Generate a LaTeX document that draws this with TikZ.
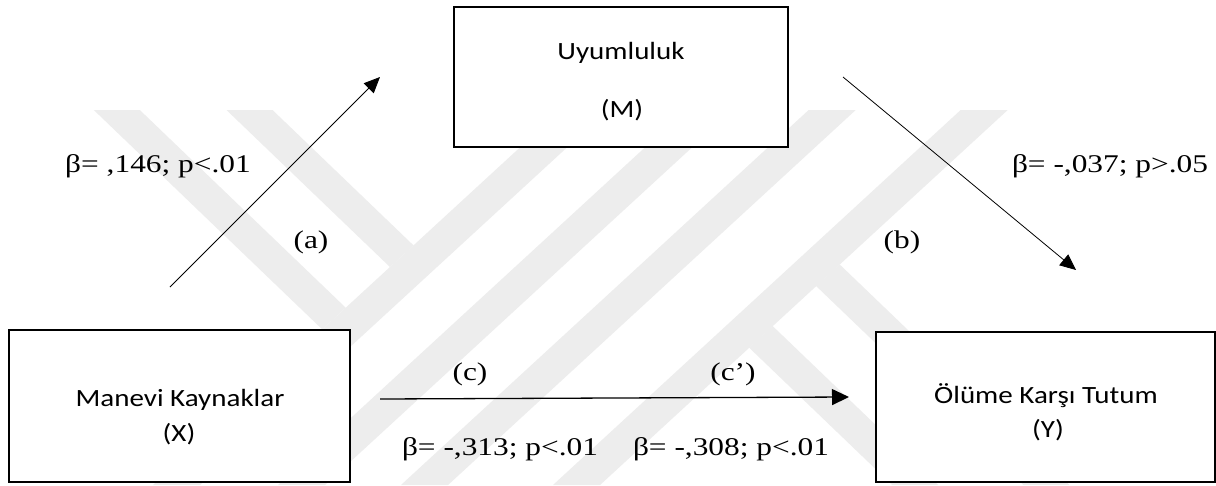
\documentclass[tikz,border=0pt]{standalone}
\usepackage{fontspec}
\usetikzlibrary{arrows.meta}
\newfontfamily\labfont[FakeStretch=1.23]{Liberation Serif}
\newfontfamily\boxfont[FakeStretch=1.17]{Carlito}
\definecolor{wmgray}{HTML}{EDEDED}
\begin{document}
\begin{tikzpicture}[x=1pt,y=-1pt,
  wm/.style={fill=wmgray, draw=none},
  varbox/.style={draw=black, line width=2.2pt, fill=white, inner sep=0pt},
  boxtext/.style={font=\boxfont\fontsize{24.8}{30}\selectfont, anchor=base, inner sep=0pt},
  coef/.style={font=\labfont\fontsize{25.5}{30}\selectfont, anchor=base, inner sep=0pt},
  conn/.style={line width=0.8pt, -{Triangle[length=16pt,width=14pt]}},
  connthick/.style={line width=1.3pt, -{Triangle[length=17pt,width=16pt]}}
]
\useasboundingbox (0,0) rectangle (1216,485);
\fill[white] (0,0) rectangle (1216,485);
% watermark
\fill[wm] (93.8,110) -- (139.8,110) -- (345.7,307.7) -- (322.2,329.3) -- cycle;
\fill[wm] (226.5,110) -- (272.5,110) -- (413.5,245.4) -- (390,267) -- cycle;
\fill[wm] (560.7,110) -- (607.7,110) -- (200,485) -- (153,485) -- cycle;
\fill[wm] (685.7,110) -- (732.7,110) -- (325,485) -- (278,485) -- cycle;
\fill[wm] (808.7,110) -- (855.7,110) -- (448,485) -- (401,485) -- cycle;
\fill[wm] (960.7,110) -- (1007.7,110) -- (600,485) -- (553,485) -- cycle;
\fill[wm] (816.1,286) -- (839.6,264.4) -- (1069.4,485) -- (1023.4,485) -- cycle;
\fill[wm] (749.1,347.6) -- (772.6,326) -- (938.2,485) -- (892.2,485) -- cycle;
% boxes
\node[varbox, minimum width=334pt, minimum height=140pt] (M) at (621,77) {};
\node[varbox, minimum width=341pt, minimum height=152pt] (X) at (179.5,406) {};
\node[varbox, minimum width=339pt, minimum height=150pt] (Y) at (1045.5,407) {};
\node[boxtext] (mname) at (621,59) {Uyumluluk};
\node[boxtext] (mcode) at (622,117) {(M)};
\node[boxtext] (xname) at (180,406) {Manevi Kaynaklar};
\node[boxtext] (xcode) at (179,441) {(X)};
\node[boxtext] (yname) at (1046,403) {Ölüme Karşı Tutum};
\node[boxtext] (ycode) at (1048,437) {(Y)};
% connectors
\coordinate (a0) at (170,287);
\coordinate (a1) at (380,77);
\coordinate (b0) at (843,77);
\coordinate (b1) at (1076,270);
\coordinate (c0) at (380,399);
\coordinate (c1) at (849,397);
\draw[conn] (a0) -- (a1);
\draw[conn] (b0) -- (b1);
\draw[connthick] (c0) -- (c1);
% labels
\node[coef] (la) at (158,172) {β= ,146; p<.01};
\node[coef] (pa) at (311,248) {(a)};
\node[coef] (lb) at (1110,172) {β= -,037; p>.05};
\node[coef] (pb) at (902,248) {(b)};
\node[coef] (pc) at (470,380) {(c)};
\node[coef] (pcp) at (733,380) {(c’)};
\node[coef] (lc) at (500,455) {β= -,313; p<.01};
\node[coef] (lcp) at (731,455) {β= -,308; p<.01};
\end{tikzpicture}
\end{document}
